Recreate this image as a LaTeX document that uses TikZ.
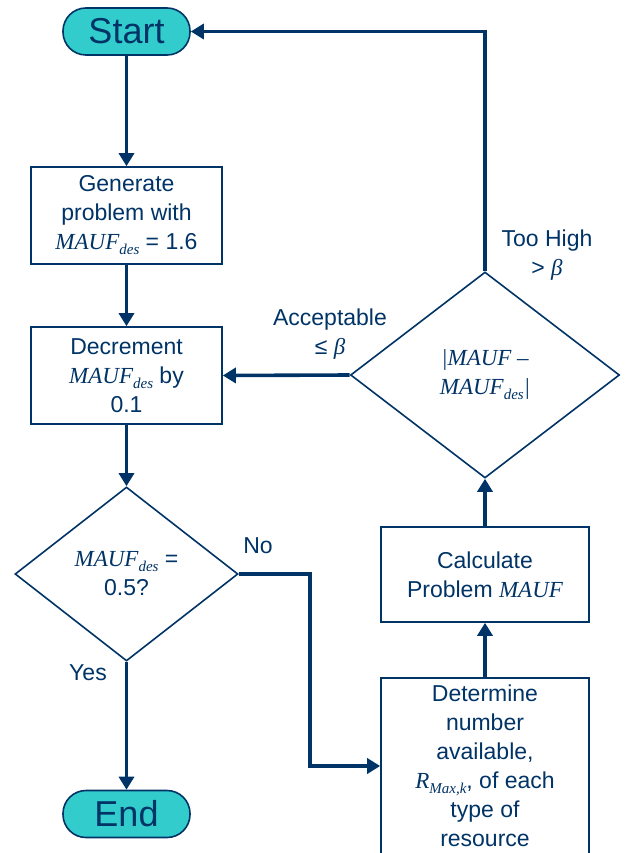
\documentclass[tikz,border=0pt]{standalone}
\usepackage{fontspec}
\setmainfont{Liberation Sans}
\newfontfamily\tnr{Liberation Serif}
\usetikzlibrary{shapes.geometric,arrows.meta}
\definecolor{navy}{RGB}{0,51,102}
\definecolor{turq}{RGB}{51,204,204}
% italic serif variables with lowered subscripts
\newcommand\vbig[1]{{\tnr\itshape\fontsize{23}{29}\selectfont #1}}
\newcommand\vsub[1]{\raisebox{-5pt}{\tnr\itshape\fontsize{15}{15}\selectfont #1}}
\newcommand\vbeta{{\tnr\itshape β}}
\begin{document}
\begin{tikzpicture}[x=1pt,y=-1pt,
  base/.style={text=navy,font=\fontsize{23}{29}\selectfont,align=center,inner sep=0pt},
  box/.style={base,draw=navy,line width=1.6pt,fill=white},
  term/.style={base,draw=navy,line width=1.6pt,fill=turq,rounded corners=23pt,
    minimum width=127pt,minimum height=47pt,font=\fontsize{36}{40}\selectfont},
  decide/.style={base,diamond,draw=navy,line width=1.6pt,fill=white},
  flow/.style={draw=navy,line width=3.6pt,-{Triangle[width=15pt,length=13pt]}},
  lbl/.style={base}
]
\useasboundingbox (0,0) rectangle (625,853);

% terminals
\node[term] (start) at (126.5,31.5) {Start};
\node[term] (stop) at (126.5,814) {End};

% left column
\node[box,minimum width=191pt,minimum height=97pt] (gen) at (126.5,215.5)
  {Generate\\problem with\\\vbig{MAUF}\vsub{des} = 1.6};
\node[box,minimum width=191pt,minimum height=97pt] (decr) at (126.5,375.5)
  {Decrement\\\vbig{MAUF}\vsub{des} by\\0.1};
\node[decide,minimum width=223pt,minimum height=174pt] (d1) at (126.5,574)
  {\vbig{MAUF}\vsub{des} =\\0.5?};

% right column
\node[box,minimum width=208pt,minimum height=176pt] (det) at (485,766)
  {Determine\\number\\available,\\\vbig{R}\vsub{Max,k}, of each\\type of\\resource};
\node[box,minimum width=208pt,minimum height=95pt] (calc) at (485,574.5)
  {Calculate\\Problem \vbig{MAUF}};
\node[decide,minimum width=269pt,minimum height=206pt] (d2) at (485,375)
  {\vbig{|MAUF –}\\\vbig{MAUF}\vsub{des}\vbig{|}};

% connectors
\draw[flow] (start) -- (gen);
\draw[flow] (gen) -- (decr);
\draw[flow] (decr) -- (d1);
\draw[flow] (d1) -- (stop);
\coordinate (nobend) at (310,574);
\draw[flow] (d1.east) -- (nobend) |- (det.west);
\draw[flow] (det) -- (calc);
\draw[flow] (calc) -- (d2);
\draw[flow] (d2.west) -- (decr.east);
\draw[flow] (d2.north) |- (start.east);

% branch labels
\node[lbl] (no) at (258,546) {No};
\node[lbl] (yes) at (88,673) {Yes};
\node[lbl] (high) at (547,255) {Too High\\> \vbeta};
\node[lbl] (ok) at (330,334) {Acceptable\\≤ \vbeta};
\end{tikzpicture}
\end{document}
